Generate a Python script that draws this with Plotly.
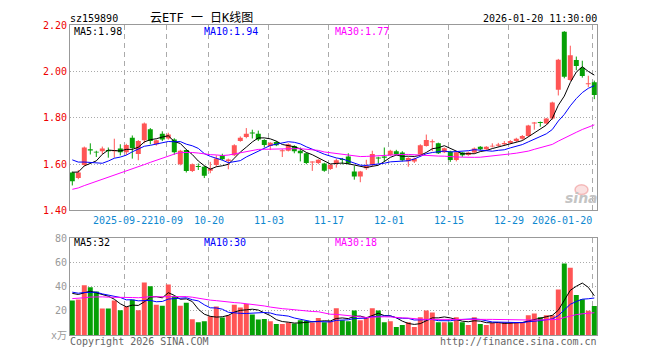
import plotly.graph_objects as go
import pandas as pd

# ---------------- data ----------------
symbol = "sz159890"
title = "云ETF 一 日K线图"
timestamp = "2026-01-20 11:30:00"

holidays = ["2025-10-01", "2025-10-02", "2025-10-03", "2025-10-06", "2025-10-07",
            "2025-10-08", "2026-01-01", "2026-01-02"]
dates = [d.strftime("%Y-%m-%d") for d in pd.bdate_range("2025-09-09", "2026-01-20")
         if d.strftime("%Y-%m-%d") not in holidays]

open_ = [1.564, 1.540, 1.596, 1.664, 1.654, 1.656, 1.661, 1.656, 1.668, 1.651,
         1.714, 1.644, 1.703, 1.751, 1.686, 1.731, 1.711, 1.707, 1.600, 1.661,
         1.571, 1.591, 1.589, 1.572, 1.596, 1.638, 1.614, 1.638, 1.700, 1.717,
         1.737, 1.731, 1.704, 1.679, 1.696, 1.656, 1.658, 1.679, 1.658, 1.647,
         1.607, 1.605, 1.603, 1.579, 1.603, 1.621, 1.633, 1.568, 1.547, 1.582,
         1.596, 1.628, 1.633, 1.640, 1.656, 1.650, 1.613, 1.612, 1.642, 1.679,
         1.695, 1.690, 1.651, 1.655, 1.618, 1.650, 1.640, 1.650, 1.675, 1.664,
         1.676, 1.680, 1.686, 1.692, 1.700, 1.710, 1.722, 1.776, 1.781, 1.776,
         1.797, 1.922, 2.172, 1.964, 2.050, 2.017, 1.945, 1.954]
high = [1.568, 1.575, 1.676, 1.690, 1.658, 1.676, 1.672, 1.710, 1.686, 1.688,
        1.724, 1.704, 1.780, 1.756, 1.706, 1.742, 1.736, 1.712, 1.662, 1.664,
        1.603, 1.603, 1.592, 1.610, 1.638, 1.645, 1.624, 1.686, 1.720, 1.756,
        1.749, 1.745, 1.708, 1.695, 1.700, 1.665, 1.690, 1.682, 1.672, 1.650,
        1.612, 1.621, 1.606, 1.600, 1.624, 1.627, 1.647, 1.592, 1.571, 1.619,
        1.658, 1.632, 1.672, 1.662, 1.662, 1.656, 1.630, 1.628, 1.686, 1.728,
        1.707, 1.693, 1.672, 1.658, 1.656, 1.652, 1.654, 1.672, 1.678, 1.678,
        1.690, 1.692, 1.700, 1.704, 1.714, 1.726, 1.770, 1.782, 1.784, 1.800,
        1.870, 2.055, 2.175, 2.112, 2.065, 2.047, 1.982, 1.961]
low = [1.508, 1.535, 1.592, 1.642, 1.631, 1.644, 1.628, 1.628, 1.638, 1.640,
       1.624, 1.617, 1.690, 1.686, 1.680, 1.700, 1.706, 1.641, 1.595, 1.564,
       1.566, 1.575, 1.540, 1.561, 1.589, 1.617, 1.578, 1.635, 1.697, 1.712,
       1.711, 1.700, 1.672, 1.661, 1.678, 1.631, 1.655, 1.647, 1.612, 1.600,
       1.571, 1.600, 1.567, 1.575, 1.585, 1.599, 1.599, 1.533, 1.522, 1.575,
       1.589, 1.603, 1.610, 1.636, 1.638, 1.612, 1.589, 1.605, 1.638, 1.676,
       1.656, 1.644, 1.648, 1.610, 1.612, 1.632, 1.636, 1.646, 1.660, 1.660,
       1.672, 1.676, 1.682, 1.688, 1.696, 1.705, 1.718, 1.749, 1.762, 1.772,
       1.792, 1.897, 1.971, 1.960, 2.006, 1.974, 1.933, 1.881]
close = [1.526, 1.564, 1.672, 1.659, 1.650, 1.668, 1.656, 1.661, 1.651, 1.683,
         1.670, 1.700, 1.776, 1.700, 1.703, 1.707, 1.728, 1.651, 1.658, 1.571,
         1.600, 1.588, 1.550, 1.582, 1.624, 1.621, 1.620, 1.682, 1.714, 1.731,
         1.733, 1.707, 1.683, 1.693, 1.682, 1.660, 1.686, 1.656, 1.647, 1.605,
         1.610, 1.619, 1.572, 1.598, 1.617, 1.618, 1.603, 1.547, 1.568, 1.592,
         1.644, 1.625, 1.628, 1.658, 1.642, 1.617, 1.627, 1.623, 1.682, 1.704,
         1.698, 1.647, 1.669, 1.618, 1.652, 1.638, 1.650, 1.668, 1.664, 1.675,
         1.680, 1.685, 1.692, 1.700, 1.710, 1.722, 1.767, 1.780, 1.778, 1.797,
         1.867, 2.051, 1.978, 2.071, 2.024, 1.981, 1.950, 1.899]
volume = [28.5, 29.3, 41.0, 39.4, 36.0, 22.0, 22.0, 28.5, 20.6, 23.5,
          29.1, 20.6, 43.4, 40.2, 25.1, 24.3, 41.8, 32.3, 24.3, 26.7,
          13.1, 10.7, 11.5, 15.5, 23.5, 14.5, 16.3, 25.1, 22.7, 25.6,
          17.1, 12.9, 13.4, 11.5, 9.1, 9.1, 10.4, 9.6, 12.3, 11.8,
          10.2, 14.2, 10.7, 11.5, 22.1, 12.3, 11.5, 20.3, 12.3, 15.0,
          22.1, 20.3, 10.7, 11.5, 6.8, 8.4, 10.7, 6.8, 14.7, 20.3,
          18.7, 10.7, 10.7, 10.7, 14.7, 10.7, 8.4, 14.7, 9.2, 8.4,
          10.0, 10.0, 10.7, 10.7, 10.0, 10.7, 16.3, 17.9, 14.7, 16.3,
          16.3, 37.5, 59.0, 55.5, 33.0, 29.5, 20.0, 24.0]

# closes / volumes of the 29 sessions before the window (only feed the moving averages)
prior_close = [1.38, 1.37, 1.39, 1.40, 1.38, 1.39, 1.41, 1.40, 1.42, 1.41,
               1.43, 1.42, 1.41, 1.43, 1.44, 1.42, 1.43, 1.45, 1.55, 1.62,
               1.66, 1.67, 1.67, 1.66, 1.70, 1.56, 1.54, 1.60, 1.60]
prior_volume = [24, 26, 22, 28, 25, 30, 27, 23, 29, 31,
                26, 28, 30, 27, 25, 29, 32, 28, 30, 29,
                38, 35, 37, 36, 36, 33.8, 34, 32.9, 42.8]

tick_dates = ["2025-09-22", "2025-10-09", "2025-10-20", "2025-11-03", "2025-11-17",
              "2025-12-01", "2025-12-15", "2025-12-29", "2026-01-20"]
tick_labels = ["2025-09-22", "10-09", "10-20", "11-03", "11-17",
               "12-01", "12-15", "12-29", "2026-01-20"]
price_ticks = [1.40, 1.60, 1.80, 2.00, 2.20]
price_tick_labels = ["1.40", "1.60", "1.80", "2.00", "2.20"]
volume_ticks = [0, 20, 40, 60, 80]
volume_tick_labels = ["x万", "20", "40", "60", "80"]
price_ma_labels = ["MA5:1.98", "MA10:1.94", "MA30:1.77"]
volume_ma_labels = ["MA5:32", "MA10:30", "MA30:18"]
ma_periods = [5, 10, 30]
copyright_text = "Copyright 2026 SINA.COM"
site_text = "http://finance.sina.com.cn"

# ---------------- styling ----------------
W, H = 660, 360
RED, GREEN = "#FF5555", "#05A005"
MA_COLORS = ["#000000", "#0000FF", "#FF00FF"]
GRID = "#AAAAAA"
FRAME = "#999999"
MONO = "DejaVu Sans Mono, Noto Sans CJK SC"

n = len(close)
xs = list(range(n))
up = [c >= o for o, c in zip(open_, close)]
colors = [RED if u else GREEN for u in up]

all_close = pd.Series(prior_close + close)
all_vol = pd.Series(prior_volume + volume)
k = len(prior_close)
price_ma = [all_close.rolling(p).mean().tolist()[k:] for p in ma_periods]
vol_ma = [all_vol.rolling(p).mean().tolist()[k:] for p in ma_periods]

fig = go.Figure()

# wicks
for col, flag in [(RED, True), (GREEN, False)]:
    wx, wy = [], []
    for i in xs:
        if up[i] == flag:
            wx += [i, i, None]
            wy += [low[i], high[i], None]
    fig.add_trace(go.Scatter(x=wx, y=wy, mode="lines", line=dict(color=col, width=1),
                             hoverinfo="skip", showlegend=False, xaxis="x", yaxis="y"))

# bodies
fig.add_trace(go.Bar(x=xs, y=[max(abs(c - o), 0.004) for o, c in zip(open_, close)],
                     base=[min(o, c) for o, c in zip(open_, close)],
                     width=0.83, marker=dict(color=colors, line=dict(width=0)),
                     hoverinfo="skip", showlegend=False, xaxis="x", yaxis="y"))

# price MAs
for ma, col in zip(price_ma, MA_COLORS):
    fig.add_trace(go.Scatter(x=xs, y=ma, mode="lines", line=dict(color=col, width=1),
                             hoverinfo="skip", showlegend=False, xaxis="x", yaxis="y"))

# volume
fig.add_trace(go.Bar(x=xs, y=volume, width=0.83, marker=dict(color=colors, line=dict(width=0)),
                     hoverinfo="skip", showlegend=False, xaxis="x2", yaxis="y2"))
for ma, col in zip(vol_ma, MA_COLORS):
    fig.add_trace(go.Scatter(x=xs, y=ma, mode="lines", line=dict(color=col, width=1),
                             hoverinfo="skip", showlegend=False, xaxis="x2", yaxis="y2"))

grid_x = [dates.index(d) - 0.3 for d in tick_dates]
x_left, x_right = 70, 597
first_px, step = 72.3, 6.0
xr = [-(first_px - x_left) / step, -(first_px - x_left) / step + (x_right - x_left) / step]

xcommon = dict(domain=[x_left / W, x_right / W], range=xr, tickvals=grid_x,
               showticklabels=False, ticks="", showgrid=True, gridcolor=GRID,
               griddash="5px,4px", gridwidth=1, zeroline=False,
               showline=True, mirror=True, linecolor=FRAME, linewidth=1, fixedrange=True)

fig.update_layout(
    width=W, height=H, margin=dict(l=0, r=0, t=0, b=0),
    paper_bgcolor="white", plot_bgcolor="white", barmode="overlay",
    showlegend=False,
    xaxis=dict(anchor="y", **xcommon),
    xaxis2=dict(anchor="y2", **xcommon),
    yaxis=dict(domain=[1 - 211.5 / H, 1 - 20 / H], range=[1.40, 2.20],
               tickvals=price_ticks, ticktext=price_tick_labels, ticks="",
               tickfont=dict(family=MONO, size=10, color="#EE0000"),
               showgrid=True, gridcolor=GRID, griddash="1px,2px", zeroline=False,
               showline=True, mirror=True, linecolor=FRAME, linewidth=1),
    yaxis2=dict(domain=[1 - 340.5 / H, 1 - 240 / H], range=[0, 80],
                tickvals=volume_ticks, ticktext=volume_tick_labels, ticks="",
                tickfont=dict(family=MONO, size=10, color="#999999"),
                showgrid=True, gridcolor=GRID, griddash="1px,2px", zeroline=False,
                showline=True, mirror=True, linecolor=FRAME, linewidth=1),
)

ann = []
def txt(text, px, py, color="#000000", size=10, anchor="left", family=MONO):
    ann.append(dict(text=text, x=px / W, y=1 - py / H, xref="paper", yref="paper",
                    xanchor=anchor, yanchor="middle", showarrow=False,
                    font=dict(family=family, size=size, color=color)))

txt(symbol, 68, 13)
txt(title, 202, 12, size=12, anchor="center")
txt(timestamp, 599, 13, anchor="right")
for lab, px, col in zip(price_ma_labels, [72, 202, 333], MA_COLORS):
    txt(lab, px, 26, col)
for lab, px, col in zip(volume_ma_labels, [72, 202, 333], MA_COLORS):
    txt(lab, px, 245, col)
txt(copyright_text, 68, 347, "#666666")
txt(site_text, 599, 347, "#666666", anchor="right")

# date labels (first two sit edge to edge, last is pulled inside the frame)
for i, (g, lab) in enumerate(zip(grid_x, tick_labels)):
    if i == 0:
        xa, xv = "center", g - 1.5 / step
    elif i == 1:
        xa, xv = "center", g + 1.5 / step
    elif i == len(tick_labels) - 1:
        xa, xv = "right", g
    else:
        xa, xv = "center", g
    ann.append(dict(text=lab, x=xv, y=1 - 221.5 / H, xref="x", yref="paper",
                    xanchor=xa, yanchor="middle", showarrow=False, borderpad=0,
                    font=dict(family=MONO, size=10, color="#0E88D0")))

# sina watermark
ann.append(dict(text="<b><i>sina</i></b>", x=581 / W, y=1 - 199 / H, xref="paper", yref="paper",
                xanchor="center", yanchor="middle", showarrow=False,
                font=dict(family="DejaVu Sans", size=14, color="#C4C4C4")))
fig.update_layout(annotations=ann)
fig.add_shape(type="circle", xref="paper", yref="paper", x0=575 / W, x1=588 / W,
              y0=1 - 195 / H, y1=1 - 185 / H, line=dict(color="rgba(235,120,120,0.45)", width=1.5),
              fillcolor="rgba(240,170,170,0.35)")

fig.write_html("out.html", config={"displayModeBar": False, "staticPlot": True},
               post_script="document.body.style.margin='0';document.body.style.overflow='hidden';")
